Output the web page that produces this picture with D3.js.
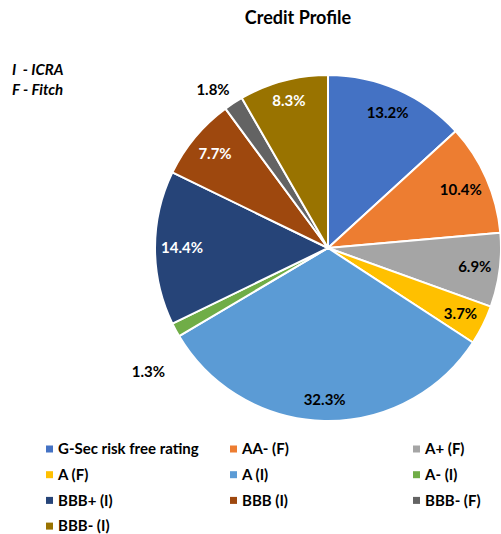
<!DOCTYPE html>
<html>
<head>
<meta charset="utf-8">
<script src="https://cdn.jsdelivr.net/npm/d3@7"></script>
<style>
  body { margin: 0; background: #fff; }
  svg { font-family: Lato, "Open Sans", sans-serif; }
</style>
</head>
<body>
<svg id="chart" width="501" height="534"></svg>
<script>
// Credit profile data, clockwise from 12 o'clock.
const categories = ["G-Sec risk free rating", "AA- (F)", "A+ (F)", "A (F)", "A (I)", "A- (I)",
                    "BBB+ (I)", "BBB (I)", "BBB- (F)", "BBB- (I)"];
const values = [13.2, 10.4, 6.9, 3.7, 32.3, 1.3, 14.4, 7.7, 1.8, 8.3];
const colors = ["#4472C4", "#ED7D31", "#A5A5A5", "#FFC000", "#5B9BD5", "#70AD47",
                "#264478", "#9E480E", "#636363", "#997300"];
const labelColors = ["#000", "#000", "#000", "#000", "#000", "#000", "#fff", "#fff", "#000", "#fff"];
const notes = ["I\u00a0\u00a0- ICRA", "F - Fitch"];

// label placement: radius and small angle nudge (degrees) per slice
const labelR = [148, 145, 148, 148, 152, 218, 146, 147, 196, 152];
const labelNudge = [0, 0, 0, 0, 0, -6.3, 0, 0, -2.8, 0];

const width = 501, height = 534;
const cx = 328, cy = 248, R = 173;

const svg = d3.select("#chart");

svg.append("text")
  .attr("x", 298).attr("y", 24)
  .attr("text-anchor", "middle")
  .attr("font-size", 18).attr("font-weight", "bold")
  .text("Credit Profile");

svg.append("g").selectAll("text")
  .data(notes)
  .join("text")
  .attr("x", 12)
  .attr("y", (d, i) => 75 + i * 20)
  .attr("font-size", 15).attr("font-weight", "bold").attr("font-style", "italic")
  .text(d => d);

const pie = d3.pie().sort(null).value(d => d);
const arcs = pie(values);
const arc = d3.arc().innerRadius(0).outerRadius(R);

const g = svg.append("g").attr("transform", `translate(${cx},${cy})`);

g.selectAll("path")
  .data(arcs)
  .join("path")
  .attr("d", arc)
  .attr("fill", (d, i) => colors[i])
  .attr("stroke", "#fff")
  .attr("stroke-width", 2)
  .attr("stroke-linejoin", "round");

g.selectAll("text.lbl")
  .data(arcs)
  .join("text")
  .attr("class", "lbl")
  .attr("transform", (d, i) => {
    const a = (d.startAngle + d.endAngle) / 2 + labelNudge[i] * Math.PI / 180;
    const r = labelR[i];
    return `translate(${r * Math.sin(a)},${-r * Math.cos(a)})`;
  })
  .attr("text-anchor", "middle")
  .attr("dy", "0.35em")
  .attr("font-size", 15).attr("font-weight", "bold")
  .attr("fill", (d, i) => labelColors[i])
  .text(d => d.data.toFixed(1) + "%");

// Legend: three columns.
const colX = [46, 230, 413];
const legend = svg.append("g").selectAll("g")
  .data(categories)
  .join("g")
  .attr("transform", (d, i) => `translate(${colX[i % 3]},${449 + Math.floor(i / 3) * 25.7})`);

legend.append("rect")
  .attr("x", 0).attr("y", -3.5)
  .attr("width", 7).attr("height", 7)
  .attr("fill", (d, i) => colors[i]);

legend.append("text")
  .attr("x", 12).attr("dy", "0.35em")
  .attr("font-size", 15).attr("font-weight", "bold")
  .text(d => d);
</script>
</body>
</html>
